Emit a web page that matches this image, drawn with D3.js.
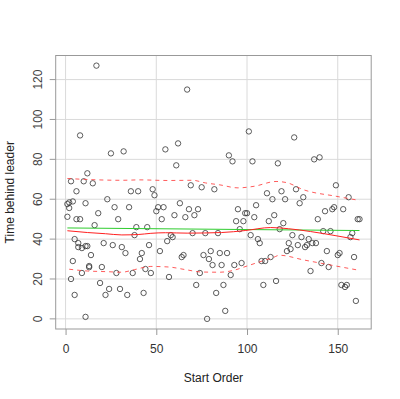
<!DOCTYPE html>
<html><head><meta charset="utf-8">
<script src="https://cdn.jsdelivr.net/npm/d3@7"></script>
<style>body{margin:0;background:#fff}svg{display:block}text{font-family:"Liberation Sans",Arial,sans-serif}</style>
</head><body>
<script>
// Scatter data: start order and time behind leader
const startOrder = [1,1,2,2,3,3,4,4,5,5,6,6,7,7,8,8,9,9,10,11,11,11,12,12,13,13,14,15,16,17,18,19,20,21,22,23,24,25,26,27,28,29,30,31,32,33,34,35,36,37,38,39,40,41,42,43,44,45,46,47,48,49,50,
51,52,53,54,55,56,57,58,59,60,61,62,63,64,65,66,67,68,69,70,71,72,73,74,75,76,77,78,79,80,81,82,83,84,85,86,87,88,89,90,91,92,93,94,95,96,97,98,99,100,101,102,103,104,105,106,107,108,109,110,
111,112,113,114,115,116,117,118,119,120,121,122,123,124,125,126,127,128,129,130,131,132,133,134,135,136,137,138,139,140,141,142,143,144,145,146,147,148,149,150,151,152,153,154,155,156,157,158,159,160,161,162];
const timeBehind = [57.6,51.2,58.4,55.6,69,20,58.9,29,40,12,64,50,38,36,92,50,35.5,23,69,58,36.5,1,73,36.5,26.5,25.9,32,68,47,127,53,18,26,38,12,60,15,83,37,56,23,50,15,36,84,33,12,56,64,23,42,46,64,30,33,13,25,46,37,23,65,62,54,
56,34,50,56,85,39,21,42,41,52,77,88,58,31,32,51,115,55,67,43,52,17,55,23,66,32,43,0,30,34,27,65,13,43,33,27,17,4,33,82,22,79,27,49,55,45,28,49,53,53,94,42,79,51,57,40,38,29,17,29,
63,49,31,60,52,19,78,45,64,48,60,34,38,35,42,91,65,37,58,41,61,36,37,40,24,38,80,38,50,81,28,44,54,34,26,44,55,56,67,32,33,17,55,16,17,61,41,43,31,9,50,50];

// Fitted lines
const fitX = [1,162];
const fitY = [45.6,44.3];
const smoothX = [1,12,22,31,40,47,55,67,86,99,113,123,135,149,162];
const smoothY = [44.2,43.3,42.7,42.1,42.3,42.9,43.2,43.0,43.3,44.3,45.8,45.2,43.8,41.7,39.6];
const upperX = [1,12,31,41,56,70,77,85,95,104,116,122,131,149,162];
const upperY = [70.4,69.9,69.5,69.7,69.4,69.5,68.2,67.2,65.7,66.5,68.9,68.3,64.8,61.5,59.4];
const lowerX = [2,12,22,31,38,47,57,66,75,85,92,100,109,114,118,131,149,161];
const lowerY = [24.9,24.0,23.7,23.4,24.7,26.3,26.0,24.7,23.5,23.4,24.2,26.5,29.2,30.6,31.9,29.6,26.5,24.5];

const xTicks = [0,50,100,150];
const yTicks = [0,20,40,60,80,100,120];

const W = 400, H = 399;
const svg = d3.select("body").append("svg").attr("width", W).attr("height", H);

const x = d3.scaleLinear().domain([-5.44,168.44]).range([55.7,371.2]);
const y = d3.scaleLinear().domain([-5.08,132.08]).range([329,55.5]);

// grid
const g = svg.append("g");
g.selectAll("line.gx").data(xTicks).join("line")
  .attr("x1", d=>x(d)).attr("x2", d=>x(d)).attr("y1", y.range()[1]).attr("y2", y.range()[0])
  .attr("stroke","#dadada").attr("stroke-width",1);
g.selectAll("line.gy").data(yTicks).join("line")
  .attr("y1", d=>y(d)).attr("y2", d=>y(d)).attr("x1", x.range()[0]).attr("x2", x.range()[1])
  .attr("stroke","#dadada").attr("stroke-width",1);

// points
svg.append("g").selectAll("circle").data(startOrder.map((s,i)=>[s,timeBehind[i]])).join("circle")
  .attr("cx", d=>x(d[0])).attr("cy", d=>y(d[1])).attr("r", 2.7)
  .attr("fill","none").attr("stroke","#333").attr("stroke-width",0.8);

const line = d3.line().x(d=>x(d[0])).y(d=>y(d[1])).curve(d3.curveMonotoneX);
const zip = (a,b)=>a.map((v,i)=>[v,b[i]]);

svg.append("path").attr("d", line(zip(fitX,fitY))).attr("fill","none").attr("stroke","#2ecc2e").attr("stroke-width",1);
svg.append("path").attr("d", line(zip(smoothX,smoothY))).attr("fill","none").attr("stroke","#ff2020").attr("stroke-width",1);
[zip(upperX,upperY), zip(lowerX,lowerY)].forEach(pts=>{
  svg.append("path").attr("d", line(pts)).attr("fill","none").attr("stroke","#ff4040")
    .attr("stroke-width",1).attr("stroke-dasharray","4,4").attr("opacity",0.85);
});

// box
svg.append("rect").attr("x", x.range()[0]).attr("y", y.range()[1])
  .attr("width", x.range()[1]-x.range()[0]).attr("height", y.range()[0]-y.range()[1])
  .attr("fill","none").attr("stroke","#999").attr("stroke-width",1);

// axes
const xa = svg.append("g").attr("transform",`translate(0,${y.range()[0]})`)
  .call(d3.axisBottom(x).tickValues(xTicks).tickSize(6).tickPadding(9).tickFormat(d3.format("d")));
xa.select(".domain").remove();
xa.selectAll("line").attr("stroke","#999");
xa.selectAll("text").attr("fill","#333").attr("font-size","12px").attr("font-family","Liberation Sans, Arial, sans-serif");

const ya = svg.append("g").attr("transform",`translate(${x.range()[0]},0)`)
  .call(d3.axisLeft(y).tickValues(yTicks).tickSize(6).tickFormat(d3.format("d")));
ya.select(".domain").remove();
ya.selectAll("line").attr("stroke","#999");
ya.selectAll("text").attr("fill","#444").attr("font-size","12px").attr("font-family","Liberation Sans, Arial, sans-serif")
  .attr("transform", d=>`translate(${41.7-x.range()[0]},${y(d)}) rotate(-90)`)
  .attr("x",0).attr("y",0).attr("dy",0).attr("text-anchor","middle");
ya.selectAll(".tick").attr("transform", d=>`translate(0,${y(d)})`);
ya.selectAll(".tick text").attr("transform", `translate(${41.7-x.range()[0]},0) rotate(-90)`);

svg.append("text").attr("x", (x.range()[0]+x.range()[1])/2).attr("y", 382)
  .attr("text-anchor","middle").attr("font-size","12px").attr("fill","#222").text("Start Order");
svg.append("text").attr("transform", `translate(14,${(y.range()[0]+y.range()[1])/2}) rotate(-90)`)
  .attr("text-anchor","middle").attr("font-size","12px").attr("fill","#222").text("Time behind leader");
</script>
</body></html>
